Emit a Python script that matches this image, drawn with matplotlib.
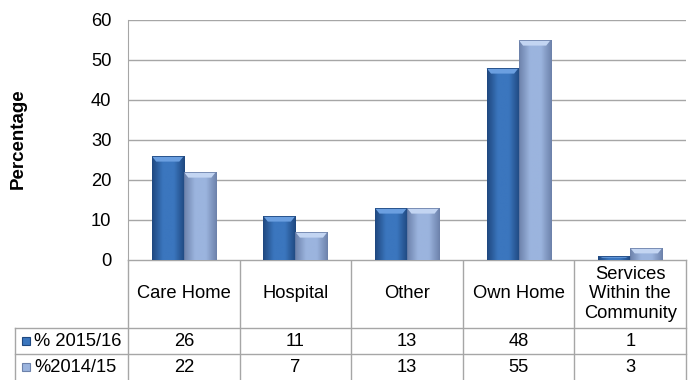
import matplotlib
matplotlib.use('Agg')
import matplotlib.pyplot as plt
from matplotlib.patches import Rectangle, Polygon
from matplotlib.colors import LinearSegmentedColormap
import numpy as np

categories = ['Care Home', 'Hospital', 'Other', 'Own Home', 'Services\nWithin the\nCommunity']
series_names = ['% 2015/16', '%2014/15']
pct_2015_16 = [26, 11, 13, 48, 1]
pct_2014_15 = [22, 7, 13, 55, 3]
yticks = [0, 10, 20, 30, 40, 50, 60]

plt.rcParams['font.family'] = ['Liberation Sans', 'DejaVu Sans']

W, H = 691, 380
fig = plt.figure(figsize=(W / 100, H / 100), dpi=100)


def box(x0, y0, x1, y1):
    # pixel box (top-left origin) -> figure fraction rect
    return [x0 / W, 1 - y1 / H, (x1 - x0) / W, (y1 - y0) / H]


left, top, right, bottom = 128, 20, 686, 260
ax = fig.add_axes(box(left, top, right, bottom))

grid_col = '#a6a6a6'
styles = [
    dict(edge='#1f4880', mid='#3b76be', bevel='#6b9fe0'),
    dict(edge='#6d82ab', mid='#9bb4de', bevel='#c3d5f2'),
]
fs = 13.2

x = np.arange(len(categories))
bw = 0.2875
for k, vals in enumerate([pct_2015_16, pct_2014_15]):
    st = styles[k]
    cmap = LinearSegmentedColormap.from_list('b%d' % k, [st['edge'], st['mid'], st['mid'], st['edge']])
    bars = ax.bar(x + (k - 0.5) * bw, vals, bw, color=st['mid'], edgecolor='none', zorder=3)
    for b in bars:
        x0, w, h = b.get_x(), b.get_width(), b.get_height()
        grad = np.linspace(0, 1, 64).reshape(1, -1)
        im = ax.imshow(grad, extent=[x0, x0 + w, 0, h], aspect='auto', cmap=cmap,
                       zorder=3, interpolation='bilinear')
        im.set_clip_path(b)
        d = min(1.4, h * 0.45)
        ins = w * 0.14
        ax.add_patch(Polygon([(x0, h), (x0 + w, h), (x0 + w - ins, h - d), (x0 + ins, h - d)],
                             closed=True, facecolor=st['bevel'], edgecolor='none', zorder=4))
        ax.add_patch(Rectangle((x0, 0), w, h, facecolor='none', edgecolor=st['edge'],
                               linewidth=0.6, zorder=5))

ax.set_xlim(-0.5, len(categories) - 0.5)
ax.set_ylim(0, 60)
ax.set_yticks(yticks)
ax.set_xticks([])
ax.yaxis.grid(True, color=grid_col, linewidth=1)
ax.set_axisbelow(True)
for s in ['top', 'right', 'bottom']:
    ax.spines[s].set_visible(False)
ax.spines['left'].set_color(grid_col)
ax.tick_params(axis='y', length=0, pad=12, labelsize=fs)

fig.text(18 / W, 1 - 139 / H, 'Percentage', rotation=90, ha='center', va='center',
         fontsize=13.5, fontweight='bold')

# data table under the bars
tx = fig.add_axes([0, 0, 1, 1], zorder=-1)
tx.set_xlim(0, W)
tx.set_ylim(H, 0)
tx.axis('off')

col_edges = np.linspace(left, right, len(categories) + 1)
row_tops = [bottom, 328, 354, 380]
lw = 1
for cx in col_edges:
    tx.plot([cx, cx], [bottom, H], color=grid_col, lw=lw)
tx.plot([left, right], [bottom, bottom], color=grid_col, lw=lw)
for ry in row_tops[1:3]:
    tx.plot([15, right], [ry, ry], color=grid_col, lw=lw)
tx.plot([15, 15], [328, H], color=grid_col, lw=lw)

centers = (col_edges[:-1] + col_edges[1:]) / 2
for cx, cat in zip(centers, categories):
    tx.text(cx, 294, cat, ha='center', va='center', fontsize=fs, linespacing=1.2)

for r, (name, vals) in enumerate(zip(series_names, [pct_2015_16, pct_2014_15])):
    cy = (row_tops[r + 1] + row_tops[r + 2]) / 2
    st = styles[r]
    tx.add_patch(Rectangle((22, cy - 4), 8, 8, facecolor=st['mid'], edgecolor=st['edge'], lw=0.8))
    tx.text(34, cy, name, ha='left', va='center', fontsize=fs)
    for cx, v in zip(centers, vals):
        tx.text(cx, cy, str(v), ha='center', va='center', fontsize=fs)

fig.savefig('out.png', dpi=100)
